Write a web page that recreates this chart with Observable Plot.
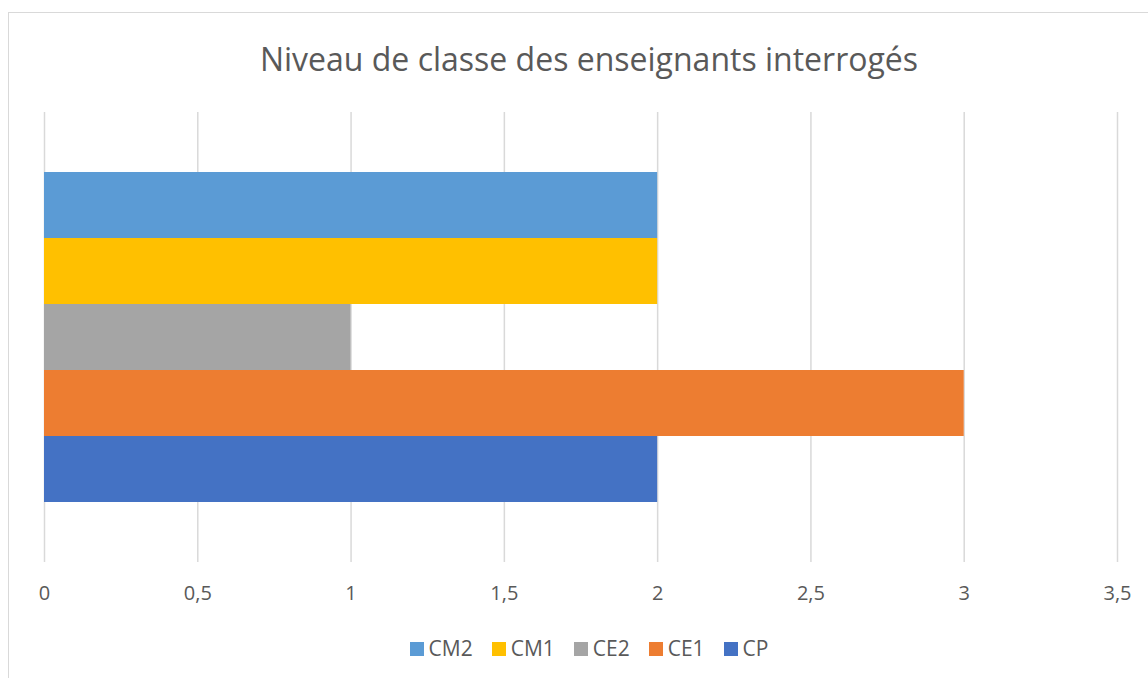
<!DOCTYPE html>
<html><head><meta charset="utf-8">
<script src="https://cdn.jsdelivr.net/npm/d3@7"></script>
<script src="https://cdn.jsdelivr.net/npm/@observablehq/plot@0.6"></script>
<style>
html,body{margin:0;padding:0;background:#fff;overflow:hidden;width:1148px;height:678px;}
#frame{position:absolute;left:8px;top:12px;width:1200px;height:720px;border:1px solid #d9d9d9;box-sizing:border-box;}
#title{position:absolute;left:0;top:36px;width:1178px;text-align:center;font-family:"Open Sans",sans-serif;font-size:32px;color:#595959;line-height:46px;white-space:nowrap;}
#chart{position:absolute;left:0;top:100px;}
#legend{position:absolute;left:0;top:634px;width:1178px;text-align:center;font-family:"Open Sans",sans-serif;font-size:21px;color:#595959;line-height:28px;}
.item{display:inline-block;margin:0 9.5px;}
.sw{display:inline-block;width:14px;height:14px;margin-right:5px;vertical-align:0px;}
svg text{font-size:20px;}
</style></head>
<body>
<div id="frame"></div>
<div id="title">Niveau de classe des enseignants interrogés</div>
<div id="chart"></div>
<div id="legend"></div>
<script>
const series = ["CP", "CE1", "CE2", "CM1", "CM2"];
const values = [2, 3, 1, 2, 2];
const colors = ["#4472C4", "#ED7D31", "#A5A5A5", "#FFC000", "#5B9BD5"];
const xTicks = [0, 0.5, 1, 1.5, 2, 2.5, 3, 3.5];
const legendOrder = ["CM2", "CM1", "CE2", "CE1", "CP"];

const data = series.map((s, i) => ({series: s, value: values[i]}));
const fmt = d => String(d).replace(".", ",");

const chart = Plot.plot({
  width: 1148,
  height: 520,
  marginLeft: 44,
  marginRight: 31,
  marginTop: 12,
  marginBottom: 58,
  style: {fontFamily: "'Open Sans', sans-serif", fontSize: "20px", color: "#595959", background: "transparent"},
  x: {domain: [0, 3.5], label: null},
  y: {domain: legendOrder, padding: 0, insetTop: 60, insetBottom: 60, axis: null},
  color: {domain: series, range: colors},
  marks: [
    Plot.ruleX(xTicks, {stroke: "#d9d9d9", strokeWidth: 1.5}),
    Plot.barX(data, {x: "value", y: "series", fill: "series"}),
    Plot.axisX({ticks: xTicks, tickFormat: fmt, tickSize: 0, tickPadding: 23, label: null, fill: "#595959"})
  ]
});
document.getElementById("chart").appendChild(chart);

const leg = document.getElementById("legend");
legendOrder.forEach(s => {
  const it = document.createElement("span");
  it.className = "item";
  const sw = document.createElement("span");
  sw.className = "sw";
  sw.style.background = colors[series.indexOf(s)];
  it.appendChild(sw);
  it.appendChild(document.createTextNode(s));
  leg.appendChild(it);
});
</script>
</body></html>
